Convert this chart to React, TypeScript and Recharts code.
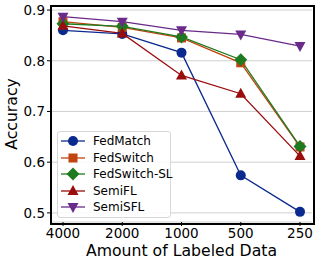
import { LineChart, Line, XAxis, YAxis, CartesianGrid } from 'recharts';

const categories = ['4000', '2000', '1000', '500', '250'];
const fedMatch = [0.86, 0.853, 0.816, 0.574, 0.502];
const fedSwitch = [0.877, 0.866, 0.845, 0.796, 0.63];
const fedSwitchSL = [0.873, 0.868, 0.847, 0.802, 0.631];
const semiFL = [0.869, 0.854, 0.771, 0.735, 0.612];
const semiSFL = [0.887, 0.877, 0.86, 0.852, 0.829];
const yTicks = [0.5, 0.6, 0.7, 0.8, 0.9];

type Shape = 'circle' | 'square' | 'diamond' | 'up' | 'down';

interface Series {
  key: string;
  name: string;
  color: string;
  shape: Shape;
  values: number[];
}

const series: Series[] = [
  { key: 'fedMatch', name: 'FedMatch', color: '#0b2a8f', shape: 'circle', values: fedMatch },
  { key: 'fedSwitch', name: 'FedSwitch', color: '#c2440f', shape: 'square', values: fedSwitch },
  { key: 'fedSwitchSL', name: 'FedSwitch-SL', color: '#1f7a1f', shape: 'diamond', values: fedSwitchSL },
  { key: 'semiFL', name: 'SemiFL', color: '#9a0d0d', shape: 'up', values: semiFL },
  { key: 'semiSFL', name: 'SemiSFL', color: '#6a2a8a', shape: 'down', values: semiSFL },
];

const data = categories.map((c, i) => {
  const row: Record<string, string | number> = { labeled: c };
  series.forEach((s) => {
    row[s.key] = s.values[i];
  });
  return row;
});

const FONT = 'DejaVu Sans, sans-serif';
// plot area in page pixels
const PLOT = { left: 51, top: 6, right: 312, bottom: 222 };

function Marker({ shape, color, x, y }: { shape: Shape; color: string; x: number; y: number }) {
  switch (shape) {
    case 'circle':
      return <circle cx={x} cy={y} r={5} fill={color} />;
    case 'square':
      return <rect x={x - 4.5} y={y - 4.5} width={9} height={9} fill={color} />;
    case 'diamond':
      return <polygon points={`${x},${y - 6.5} ${x + 6.5},${y} ${x},${y + 6.5} ${x - 6.5},${y}`} fill={color} />;
    case 'up':
      return <polygon points={`${x},${y - 6} ${x + 5.5},${y + 4} ${x - 5.5},${y + 4}`} fill={color} />;
    default:
      return <polygon points={`${x},${y + 6} ${x + 5.5},${y - 4} ${x - 5.5},${y - 4}`} fill={color} />;
  }
}

function makeDot(s: Series) {
  return (props: any) => {
    const { cx, cy, index } = props;
    if (cx == null || cy == null) return <g key={`${s.key}-${index}`} />;
    return (
      <g key={`${s.key}-${index}`}>
        <Marker shape={s.shape} color={s.color} x={cx} y={cy} />
      </g>
    );
  };
}

function LegendBox() {
  return (
    <div
      style={{
        position: 'absolute',
        left: 57,
        top: 131,
        width: 106,
        border: '1px solid #d8d8d8',
        borderRadius: 3,
        background: 'rgba(255,255,255,0.85)',
        padding: '1px 3px 1px 3px',
        fontFamily: FONT,
        fontSize: 12,
        color: '#000',
      }}
    >
      {series.map((s) => (
        <div key={s.key} style={{ display: 'flex', alignItems: 'center', height: 16.5, whiteSpace: 'nowrap' }}>
          <svg width={24} height={14} style={{ marginRight: 8, flexShrink: 0 }}>
            <line x1={0} y1={7} x2={24} y2={7} stroke={s.color} strokeWidth={1.3} />
            <Marker shape={s.shape} color={s.color} x={12} y={7} />
          </svg>
          <span>{s.name}</span>
        </div>
      ))}
    </div>
  );
}

export default function App() {
  return (
    <div style={{ position: 'absolute', left: 0, top: 0, width: 319, height: 266, background: '#fff' }}>
      <LineChart
        width={319}
        height={266}
        data={data}
        margin={{ top: PLOT.top, right: 319 - PLOT.right, left: 0, bottom: 0 }}
      >
        <CartesianGrid vertical={false} stroke="#d0d0d0" strokeWidth={1} />
        <XAxis
          dataKey="labeled"
          height={266 - PLOT.bottom}
          padding={{ left: 12, right: 12 }}
          axisLine={false}
          tickLine={{ stroke: '#000' }}
          tickSize={4}
          tick={{ fill: '#000', fontSize: 13.5, fontFamily: FONT }}
          label={{
            content: () => (
              <text x={181.5} y={256} textAnchor="middle" fill="#000" fontSize={15.7} fontFamily={FONT}>
                Amount of Labeled Data
              </text>
            ),
          }}
        />
        <YAxis
          width={PLOT.left}
          domain={[0.482, 0.908]}
          ticks={yTicks}
          allowDataOverflow
          tickFormatter={(v: number) => v.toFixed(1)}
          axisLine={false}
          tickLine={{ stroke: '#000' }}
          tickSize={4}
          tick={{ fill: '#000', fontSize: 13.5, fontFamily: FONT }}
          label={{
            content: () => (
              <text x={17} y={114} transform="rotate(-90 17 114)" textAnchor="middle" fill="#000" fontSize={15.7} fontFamily={FONT}>
                Accuracy
              </text>
            ),
          }}
        />
        {series.map((s) => (
          <Line
            key={s.key}
            dataKey={s.key}
            name={s.name}
            stroke={s.color}
            strokeWidth={1.3}
            dot={makeDot(s)}
            activeDot={false}
            isAnimationActive={false}
          />
        ))}
      </LineChart>
      <div
        style={{
          position: 'absolute',
          left: PLOT.left - 1,
          top: PLOT.top - 1,
          width: PLOT.right - PLOT.left,
          height: PLOT.bottom - PLOT.top,
          border: '2px solid #000',
          boxSizing: 'content-box',
          pointerEvents: 'none',
        }}
      />
      <LegendBox />
    </div>
  );
}
